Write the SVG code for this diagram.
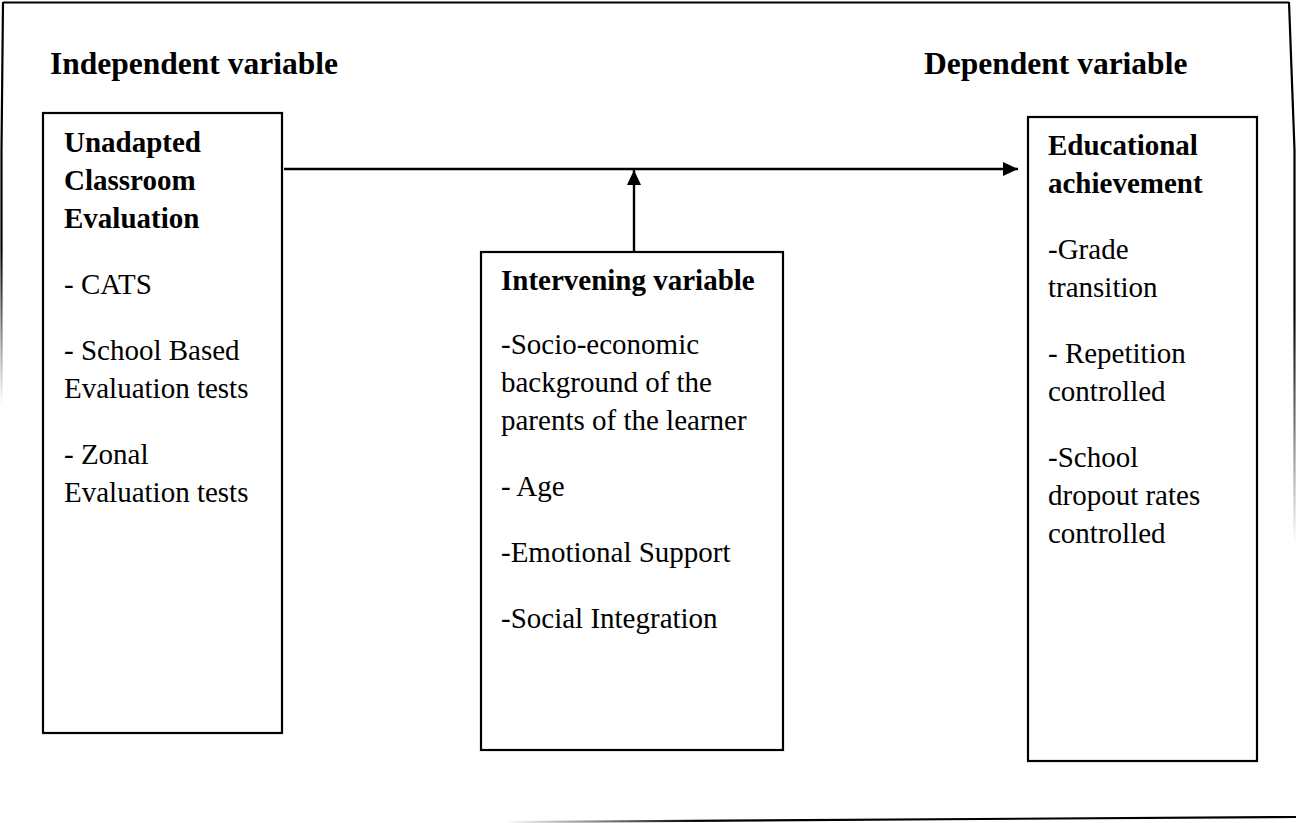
<svg xmlns="http://www.w3.org/2000/svg" width="1296" height="823" viewBox="0 0 1296 823">
<style>
.box{fill:#fff;stroke:#000;stroke-width:2.2}
.t{font-family:"Liberation Serif","Times New Roman",serif;font-size:29px;fill:#000}
.b{font-weight:bold}
.h{font-family:"Liberation Serif","Times New Roman",serif;font-size:31.5px;font-weight:bold;fill:#000}
.c{stroke:#000;stroke-width:2.4;fill:none}
</style>
<defs>
<marker id="ah" markerUnits="userSpaceOnUse" markerWidth="16" markerHeight="14" refX="15" refY="7" orient="auto">
<path d="M0,0 L15,7 L0,14 Z" fill="#000"/>
</marker>
<linearGradient id="gl" gradientUnits="userSpaceOnUse" x1="0" y1="250" x2="0" y2="405">
<stop offset="0" stop-color="#000" stop-opacity="1"/><stop offset="1" stop-color="#000" stop-opacity="0"/>
</linearGradient>
<linearGradient id="gr" gradientUnits="userSpaceOnUse" x1="0" y1="310" x2="0" y2="545">
<stop offset="0" stop-color="#000" stop-opacity="1"/><stop offset="1" stop-color="#000" stop-opacity="0"/>
</linearGradient>
<linearGradient id="gb" gradientUnits="userSpaceOnUse" x1="700" y1="0" x2="505" y2="0">
<stop offset="0" stop-color="#000" stop-opacity="1"/><stop offset="1" stop-color="#000" stop-opacity="0"/>
</linearGradient>
</defs>
<g id="frame" fill="none" stroke-width="2.2">
<line x1="3" y1="2.5" x2="1289" y2="2.5" stroke="#000"/>
<path d="M3,2 L1.5,150 L1.5,405" stroke="url(#gl)"/>
<path d="M1289,2 L1294.5,150 L1294.5,545" stroke="url(#gr)"/>
<line x1="505" y1="822" x2="1296" y2="817" stroke="url(#gb)"/>
</g>
<g id="labels">
<text class="h" x="50" y="74">Independent variable</text>
<text class="h" x="924" y="74">Dependent variable</text>
</g>
<g id="independent">
<rect class="box" x="43" y="113" width="239" height="620"/>
<text class="t b" x="64" y="152">Unadapted</text>
<text class="t b" x="64" y="190">Classroom</text>
<text class="t b" x="64" y="228">Evaluation</text>
<text class="t" x="64" y="294">- CATS</text>
<text class="t" x="64" y="360">- School Based</text>
<text class="t" x="64" y="398">Evaluation tests</text>
<text class="t" x="64" y="464">- Zonal</text>
<text class="t" x="64" y="502">Evaluation tests</text>
</g>
<g id="intervening">
<rect class="box" x="481" y="252" width="302" height="498"/>
<text class="t b" x="501" y="290">Intervening variable</text>
<text class="t" x="501" y="354">-Socio-economic</text>
<text class="t" x="501" y="392">background of the</text>
<text class="t" x="501" y="430">parents of the learner</text>
<text class="t" x="501" y="496">- Age</text>
<text class="t" x="501" y="562">-Emotional Support</text>
<text class="t" x="501" y="628">-Social Integration</text>
</g>
<g id="dependent">
<rect class="box" x="1028" y="117" width="229" height="644"/>
<text class="t b" x="1048" y="155">Educational</text>
<text class="t b" x="1048" y="193">achievement</text>
<text class="t" x="1048" y="259">-Grade</text>
<text class="t" x="1048" y="297">transition</text>
<text class="t" x="1048" y="363">- Repetition</text>
<text class="t" x="1048" y="401">controlled</text>
<text class="t" x="1048" y="467">-School</text>
<text class="t" x="1048" y="505">dropout rates</text>
<text class="t" x="1048" y="543">controlled</text>
</g>
<g id="connectors">
<line class="c" x1="284" y1="169" x2="1018" y2="169" marker-end="url(#ah)"/>
<line class="c" x1="634" y1="252" x2="634" y2="170" marker-end="url(#ah)"/>
</g>
</svg>
